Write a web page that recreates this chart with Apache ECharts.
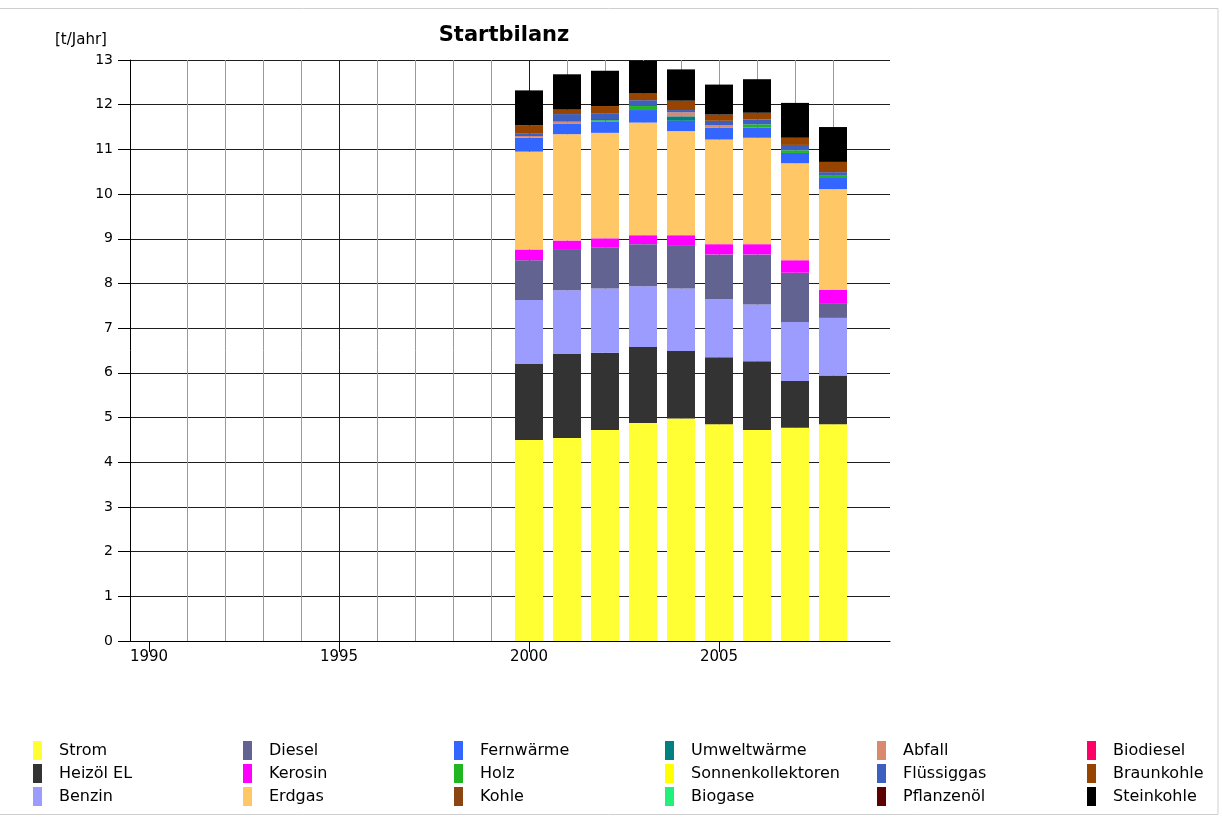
<!DOCTYPE html>
<html>
<head>
<meta charset="utf-8">
<script src="https://cdn.jsdelivr.net/npm/echarts@6/dist/echarts.min.js"></script>
<style>
html,body{margin:0;padding:0;background:#fff;}
#chart{width:1222px;height:818px;}
</style>
</head>
<body>
<div id="chart"></div>
<script>
// ---- data (t/Jahr) ----
const years = [2000, 2001, 2002, 2003, 2004, 2005, 2006, 2007, 2008];
const gridYears = [1990, 1991, 1992, 1993, 1994, 1995, 1996, 1997, 1998, 1999, 2000, 2001, 2002, 2003, 2004, 2005, 2006, 2007, 2008, 2009];
const majorYears = [1990, 1995, 2000, 2005];

const strom        = [4.50, 4.54, 4.72, 4.88, 4.98, 4.85, 4.72, 4.77, 4.85];
const heizoel      = [1.70, 1.88, 1.73, 1.70, 1.51, 1.50, 1.54, 1.05, 1.09];
const benzin       = [1.43, 1.43, 1.44, 1.36, 1.40, 1.30, 1.27, 1.32, 1.29];
const diesel       = [0.89, 0.90, 0.92, 0.94, 0.95, 1.00, 1.12, 1.10, 0.33];
const kerosin      = [0.24, 0.21, 0.20, 0.20, 0.24, 0.23, 0.23, 0.28, 0.30];
const erdgas       = [2.19, 2.38, 2.36, 2.52, 2.33, 2.34, 2.38, 2.17, 2.25];
const fernwaerme   = [0.31, 0.23, 0.25, 0.28, 0.23, 0.27, 0.23, 0.23, 0.25];
const holz         = [0, 0, 0.03, 0.09, 0, 0, 0.07, 0.06, 0.05];
const kohle        = [0, 0, 0, 0, 0, 0, 0, 0, 0];
const umweltwaerme = [0, 0, 0.03, 0, 0.10, 0, 0, 0, 0];
const sonnenkoll   = [0, 0, 0, 0, 0, 0, 0, 0, 0];
const biogase      = [0, 0, 0, 0, 0, 0, 0, 0, 0];
const abfall       = [0.04, 0.05, 0, 0, 0.09, 0.05, 0, 0, 0];
const fluessiggas  = [0.05, 0.17, 0.13, 0.13, 0.05, 0.10, 0.11, 0.12, 0.08];
const pflanzenoel  = [0, 0, 0, 0, 0, 0, 0, 0, 0];
const biodiesel    = [0, 0, 0, 0, 0, 0, 0, 0, 0];
const braunkohle   = [0.19, 0.10, 0.16, 0.15, 0.21, 0.14, 0.15, 0.16, 0.23];
const steinkohle   = [0.78, 0.79, 0.79, 0.73, 0.70, 0.67, 0.75, 0.78, 0.78];

const seriesNames = ['Strom', 'Heizöl EL', 'Benzin', 'Diesel', 'Kerosin', 'Erdgas',
  'Fernwärme', 'Holz', 'Kohle', 'Umweltwärme', 'Sonnenkollektoren', 'Biogase',
  'Abfall', 'Flüssiggas', 'Pflanzenöl', 'Biodiesel', 'Braunkohle', 'Steinkohle'];
const seriesValues = [strom, heizoel, benzin, diesel, kerosin, erdgas,
  fernwaerme, holz, kohle, umweltwaerme, sonnenkoll, biogase,
  abfall, fluessiggas, pflanzenoel, biodiesel, braunkohle, steinkohle];

// ---- styles ----
const seriesColors = ['#ffff33', '#333333', '#9c9cff', '#636391', '#ff00ff', '#ffc766',
  '#3366ff', '#22b522', '#8b4513', '#008080', '#ffff00', '#22f07a',
  '#d98a6e', '#3c5fc0', '#5c0000', '#ff0066', '#964400', '#000000'];
const FONT = '"DejaVu Sans", sans-serif';
const XMIN = 1989.5, XMAX = 2009.5;
const legendLefts = [28, 238, 449, 660, 872, 1082];
const yearCats = gridYears.map(String);

const series = seriesNames.map((name, k) => ({
  name: name,
  type: 'bar',
  stack: 'total',
  xAxisIndex: 2,
  barWidth: 28,
  itemStyle: { color: seriesColors[k] },
  emphasis: { disabled: true },
  data: years.map((y, i) => [String(y), seriesValues[k][i]])
}));

const legends = legendLefts.map((left, c) => ({
  orient: 'vertical',
  left: left,
  top: 736,
  itemWidth: 9,
  itemHeight: 19,
  itemGap: 4,
  icon: 'rect',
  selectedMode: false,
  data: seriesNames.slice(c * 3, c * 3 + 3),
  textStyle: { fontSize: 16, fontFamily: FONT, color: '#000', padding: [0, 0, 0, 12] }
}));

const chart = echarts.init(document.getElementById('chart'), null, { renderer: 'canvas' });
chart.setOption({
  animation: false,
  backgroundColor: '#fff',
  grid: { left: 130, right: 332, top: 60, bottom: 177, containLabel: false },
  graphic: [
    { type: 'rect', silent: true, z: -10,
      shape: { x: -2, y: 8.5, width: 1220, height: 806 },
      style: { fill: null, stroke: '#cfcfcf', lineWidth: 1 } },
    { type: 'text', x: 504, y: 36,
      style: { text: 'Startbilanz', fontSize: 21, fontWeight: 'bold', fontFamily: FONT,
               fill: '#000', align: 'center', verticalAlign: 'middle' } },
    { type: 'text', x: 55, y: 40,
      style: { text: '[t/Jahr]', fontSize: 15, fontFamily: FONT,
               fill: '#000', align: 'left', verticalAlign: 'middle' } }
  ],
  legend: legends,
  xAxis: [
    {
      type: 'value', position: 'bottom', min: XMIN, max: XMAX, minInterval: 1, maxInterval: 1,
      axisLine: { show: false },
      axisTick: { show: false, customValues: gridYears },
      axisLabel: { show: false },
      splitLine: { show: true, showMinLine: false, showMaxLine: false,
                   lineStyle: { color: '#9a9a9a', width: 1 } }
    },
    {
      type: 'value', position: 'bottom', min: XMIN, max: XMAX, minInterval: 5, maxInterval: 5,
      axisLine: { show: true, onZero: false, lineStyle: { color: '#000', width: 1 } },
      axisTick: { show: true, length: 11, customValues: majorYears, lineStyle: { color: '#000' } },
      axisLabel: { show: true, customValues: majorYears, margin: 9, fontSize: 15,
                   fontFamily: FONT, color: '#000',
                   formatter: v => String(Math.round(v)) },
      splitLine: { show: true, showMinLine: false, showMaxLine: false,
                   lineStyle: { color: '#1e1e1e', width: 1 } }
    },
    {
      type: 'category', position: 'bottom', data: yearCats, boundaryGap: true,
      axisLine: { show: false }, axisTick: { show: false },
      axisLabel: { show: false }, splitLine: { show: false }
    }
  ],
  yAxis: {
    type: 'value', min: 0, max: 13, interval: 1,
    axisLine: { show: true, lineStyle: { color: '#000', width: 1 } },
    axisTick: { show: true, length: 12, lineStyle: { color: '#000' } },
    axisLabel: { margin: 17, fontSize: 14, fontFamily: FONT, color: '#000' },
    splitLine: { show: true, lineStyle: { color: '#1e1e1e', width: 1 } }
  },
  series: series
});
</script>
</body>
</html>
